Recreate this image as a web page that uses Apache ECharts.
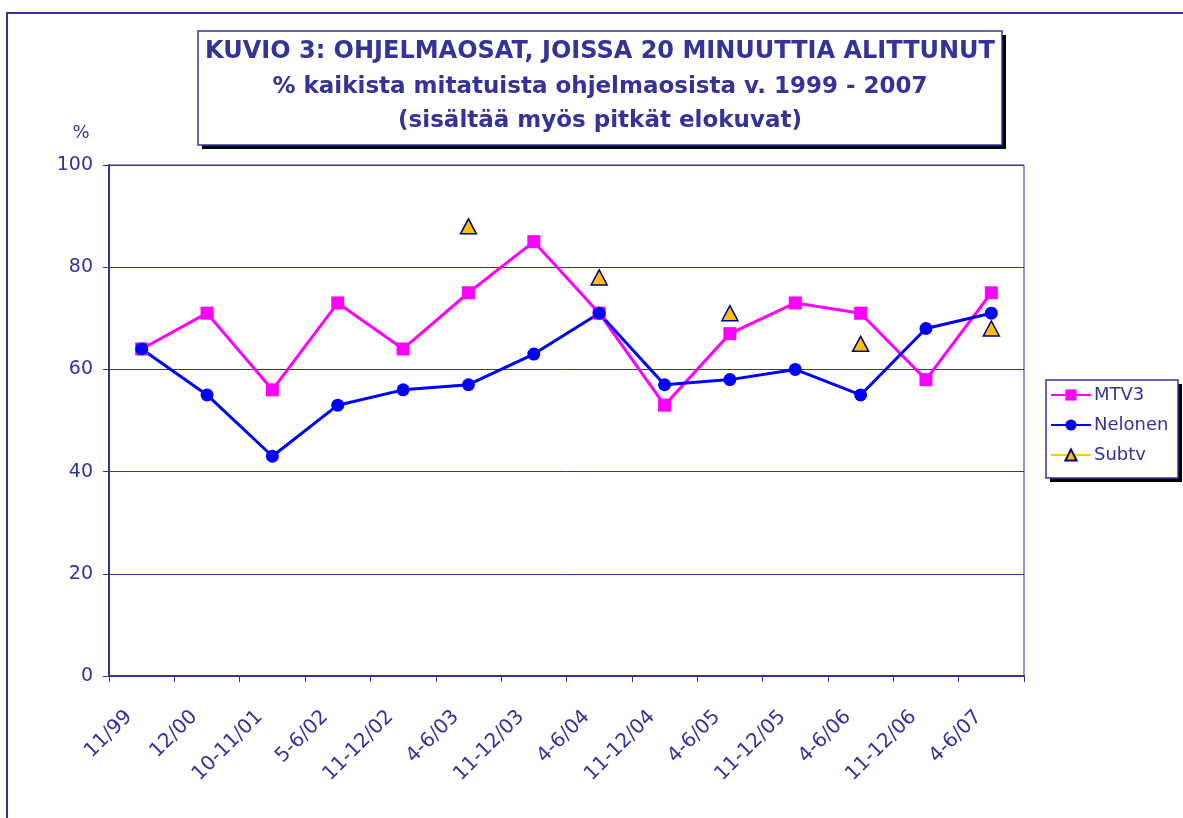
<!DOCTYPE html>
<html>
<head>
<meta charset="utf-8">
<script src="https://cdn.jsdelivr.net/npm/echarts@6/dist/echarts.min.js"></script>
<style>
html,body{margin:0;padding:0;background:#fff;}
#main{width:1183px;height:818px;}
</style>
</head>
<body>
<div id="main"></div>
<script>
var categories=['11/99','12/00','10-11/01','5-6/02','11-12/02','4-6/03','11-12/03','4-6/04','11-12/04','4-6/05','11-12/05','4-6/06','11-12/06','4-6/07'];
var mtv3=[64,71,56,73,64,75,85,71,53,67,73,71,58,75];
var nelonen=[64,55,43,53,56,57,63,71,57,58,60,55,68,71];
var subtv=[null,null,null,null,null,88,null,78,null,71,null,65,null,68];
var titleLines=['KUVIO 3: OHJELMAOSAT, JOISSA 20 MINUUTTIA ALITTUNUT','% kaikista mitatuista ohjelmaosista v. 1999 - 2007','(sisältää myös pitkät elokuvat)'];

var navy='#333399';
var fam='"DejaVu Sans", Verdana, sans-serif';
var chart=echarts.init(document.getElementById('main'));
var option={
    backgroundColor:'#fff',
    animation:false,
    graphic:[
        //ulkoreunus
        {type:'rect',shape:{x:7,y:13,width:1300,height:900},style:{fill:'none',stroke:navy,lineWidth:2},silent:true},
        //otsikkolaatikko + varjo
        {type:'rect',shape:{x:202,y:35,width:804,height:114},style:{fill:'#000'},z:9},
        {type:'rect',shape:{x:198,y:31,width:804,height:114},style:{fill:'#fff',stroke:navy,lineWidth:1.5},z:10},
        {type:'text',x:600,y:52,style:{text:titleLines[0],fill:navy,font:'bold 24px '+fam,align:'center',verticalAlign:'middle'},z:11},
        {type:'text',x:600,y:87,style:{text:titleLines[1],fill:navy,font:'bold 23px '+fam,align:'center',verticalAlign:'middle'},z:11},
        {type:'text',x:600,y:121,style:{text:titleLines[2],fill:navy,font:'bold 23px '+fam,align:'center',verticalAlign:'middle'},z:11},
        {type:'text',x:81,y:133,style:{text:'%',fill:navy,font:'18px '+fam,align:'center',verticalAlign:'middle'}},
        //selitteen laatikko + varjo
        {type:'rect',shape:{x:1050,y:384,width:132,height:98},style:{fill:'#000'},z:1},
        {type:'rect',shape:{x:1046,y:380,width:132,height:98},style:{fill:'#fff',stroke:navy,lineWidth:1.5},z:2}
    ],
    legend:{
        orient:'vertical',
        left:1050,
        top:386,
        padding:0,
        itemGap:12,
        itemWidth:40,
        itemHeight:14,
        z:5,
        textStyle:{color:navy,fontSize:18,fontFamily:fam,padding:[0,0,0,-2]},
        data:['MTV3','Nelonen','Subtv']
    },
    grid:{left:109,right:159,top:165,bottom:142,show:true,borderColor:navy,borderWidth:1},
    xAxis:{
        type:'category',
        data:categories,
        boundaryGap:true,
        axisLine:{lineStyle:{color:navy,width:2}},
        axisTick:{show:true,interval:0,length:6,lineStyle:{color:navy}},
        axisLabel:{interval:0,rotate:45,color:navy,fontSize:20,fontFamily:fam,margin:25,padding:[0,18,0,0]}
    },
    yAxis:{
        type:'value',
        min:0,max:100,interval:20,
        axisLine:{show:true,lineStyle:{color:navy,width:2}},
        axisTick:{show:true,length:6,lineStyle:{color:navy}},
        splitLine:{lineStyle:{color:navy,width:1}},
        axisLabel:{color:navy,fontSize:19,fontFamily:fam,margin:16}
    },
    series:[
        {name:'MTV3',type:'line',data:mtv3,symbol:'rect',symbolSize:13,
            lineStyle:{color:'#ff00ff',width:3},itemStyle:{color:'#ff00ff'}},
        {name:'Nelonen',type:'line',data:nelonen,symbol:'circle',symbolSize:13,
            lineStyle:{color:'#0000ff',width:3},itemStyle:{color:'#0000ff'}},
        {name:'Subtv',type:'line',data:subtv,symbol:'triangle',symbolSize:[16,15],connectNulls:false,
            lineStyle:{color:'#ffcc00',width:2},itemStyle:{color:'#ffc000',borderColor:'#000080',borderWidth:1.5}}
    ]
};
chart.setOption(option);
</script>
</body>
</html>
